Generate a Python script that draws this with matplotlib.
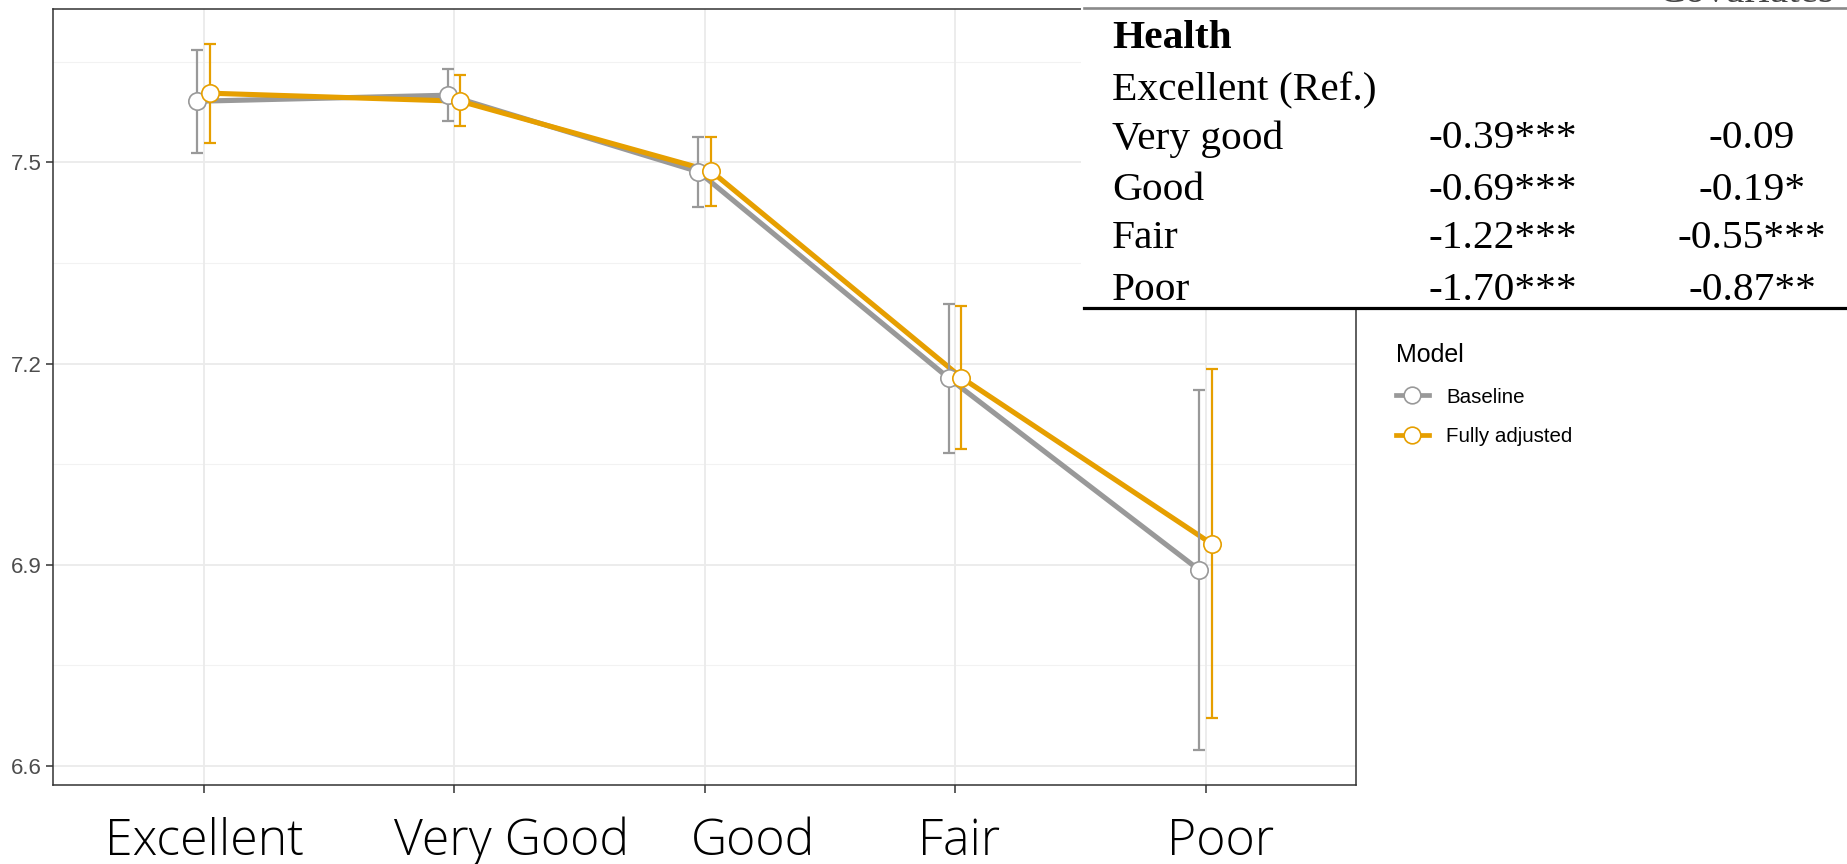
import matplotlib
matplotlib.use("Agg")
import matplotlib.pyplot as plt
from matplotlib.lines import Line2D
from matplotlib.patches import Rectangle
import numpy as np

# ---- data -------------------------------------------------------------
health_pos = [1, 2, 3, 4, 5]
health_labels = ["Excellent", "Very Good", "Good", "Fair", "Poor"]

baseline_est = [7.591, 7.600, 7.486, 7.178, 6.892]
baseline_lo = [7.514, 7.562, 7.433, 7.067, 6.624]
baseline_hi = [7.667, 7.639, 7.537, 7.289, 7.160]

adjusted_est = [7.603, 7.591, 7.487, 7.179, 6.931]
adjusted_lo = [7.528, 7.554, 7.435, 7.072, 6.671]
adjusted_hi = [7.677, 7.630, 7.537, 7.286, 7.192]

y_ticks = [6.6, 6.9, 7.2, 7.5]
y_minor = [6.75, 7.05, 7.35, 7.65]

table_rows = ["Excellent (Ref.)", "Very good", "Good", "Fair", "Poor"]
table_col_baseline = ["", "-0.39***", "-0.69***", "-1.22***", "-1.70***"]
table_col_adjusted = ["", "-0.09", "-0.19*", "-0.55***", "-0.87**"]

series = [
    ("Baseline", baseline_est, baseline_lo, baseline_hi, "#999999", -0.025),
    ("Fully adjusted", adjusted_est, adjusted_lo, adjusted_hi, "#E69F00", 0.025),
]

# ---- figure -----------------------------------------------------------
W, H = 1847, 864
fig = plt.figure(figsize=(W / 100, H / 100), dpi=100)
fig.patch.set_facecolor("white")


def fx(px):
    return px / W


def fy(py):
    return 1 - py / H


ax = fig.add_axes([fx(53.3), fy(785), fx(1356) - fx(53.3), fy(9) - fy(785)])
ax.set_xlim(0.4, 5.6)
ax.set_ylim(6.5717, 7.7285)

# grid (theme_bw look)
ax.set_axisbelow(True)
for yv in y_minor:
    ax.axhline(yv, color="#F2F2F2", lw=0.8, zorder=0)
for yv in y_ticks:
    ax.axhline(yv, color="#EBEBEB", lw=1.3, zorder=0)
for xv in health_pos:
    ax.axvline(xv, color="#EBEBEB", lw=1.3, zorder=0)

for name, est, lo, hi, col, off in series:
    xs = np.array(health_pos) + off
    ax.plot(xs, est, color=col, lw=3.7, zorder=2, solid_capstyle="butt")
for name, est, lo, hi, col, off in series:
    xs = np.array(health_pos) + off
    est_a = np.array(est)
    yerr = [est_a - np.array(lo), np.array(hi) - est_a]
    ax.errorbar(xs, est, yerr=yerr, fmt="none", ecolor=col, elinewidth=1.6,
                capsize=4.5, capthick=1.6, zorder=3)
for name, est, lo, hi, col, off in series:
    xs = np.array(health_pos) + off
    ax.plot(xs, est, linestyle="none", marker="o", markersize=12.5,
            markerfacecolor="white", markeredgecolor=col, markeredgewidth=1.2,
            zorder=4)

ax.set_yticks(y_ticks)
ax.set_yticklabels([f"{v:.1f}" for v in y_ticks], fontsize=16,
                   color="#4D4D4D", family="Liberation Sans")
ax.set_xticks(health_pos)
ax.set_xticklabels([])
ax.tick_params(axis="y", length=5, width=1.1, color="#333333", pad=3.5)
ax.tick_params(axis="x", length=5.8, width=1.1, color="#333333")
for sp in ax.spines.values():
    sp.set_color("#333333")
    sp.set_linewidth(1.1)

# category names under the axis
label_centers = [204, 512, 753, 959, 1221]
for lab, cx in zip(health_labels, label_centers):
    fig.text(fx(cx), fy(855), lab, ha="center", va="baseline", fontsize=36,
             family="Open Sans", fontweight="light", color="black")

# legend
handles = [
    Line2D([0], [0], color=col, lw=3.4, marker="o", markersize=12,
           markerfacecolor="white", markeredgecolor=col, markeredgewidth=1.2)
    for _, _, _, _, col, _ in series
]
leg = fig.legend(handles, [s[0] for s in series], title="Model",
                 loc="upper left", bbox_to_anchor=(fx(1396), fy(343)),
                 frameon=False, title_fontsize=18,
                 alignment="left", handlelength=1.6, handletextpad=0.85,
                 labelspacing=1.0, borderpad=0, borderaxespad=0,
                 prop={"family": "Liberation Sans", "size": 14.8})
leg.get_title().set_family("Liberation Sans")

# regression table panel
fig.patches.append(Rectangle((fx(1081), fy(310)), 1 - fx(1081), fy(0) - fy(310),
                             transform=fig.transFigure, facecolor="white",
                             edgecolor="none", zorder=5))
fig.lines.append(Line2D([fx(1084), 1], [fy(8.3), fy(8.3)],
                        transform=fig.transFigure, color="#8A8A8A", lw=1.9,
                        zorder=6))
fig.lines.append(Line2D([fx(1084), 1], [fy(308.3), fy(308.3)],
                        transform=fig.transFigure, color="black", lw=2.3,
                        zorder=6))

serif = "Liberation Serif"
tsize = 29.8
fig.text(fx(1657), fy(1.5), "Covariates", ha="left", va="baseline",
         fontsize=tsize, family=serif, color="#444444", zorder=6)
fig.text(fx(1112), fy(48.3), "Health", ha="left", va="baseline", fontsize=tsize,
         family=serif, fontweight="bold", zorder=6)
row_baselines = [100, 148.5, 200, 248.5, 300]
for lab, b1, b2, yb in zip(table_rows, table_col_baseline, table_col_adjusted,
                           row_baselines):
    fig.text(fx(1112), fy(yb), lab, ha="left", va="baseline", fontsize=tsize,
             family=serif, zorder=6)
    if b1:
        fig.text(fx(1503), fy(yb), b1, ha="center", va="baseline",
                 fontsize=tsize, family=serif, zorder=6)
    if b2:
        fig.text(fx(1752), fy(yb), b2, ha="center", va="baseline",
                 fontsize=tsize, family=serif, zorder=6)

fig.savefig("out.png", dpi=100)
